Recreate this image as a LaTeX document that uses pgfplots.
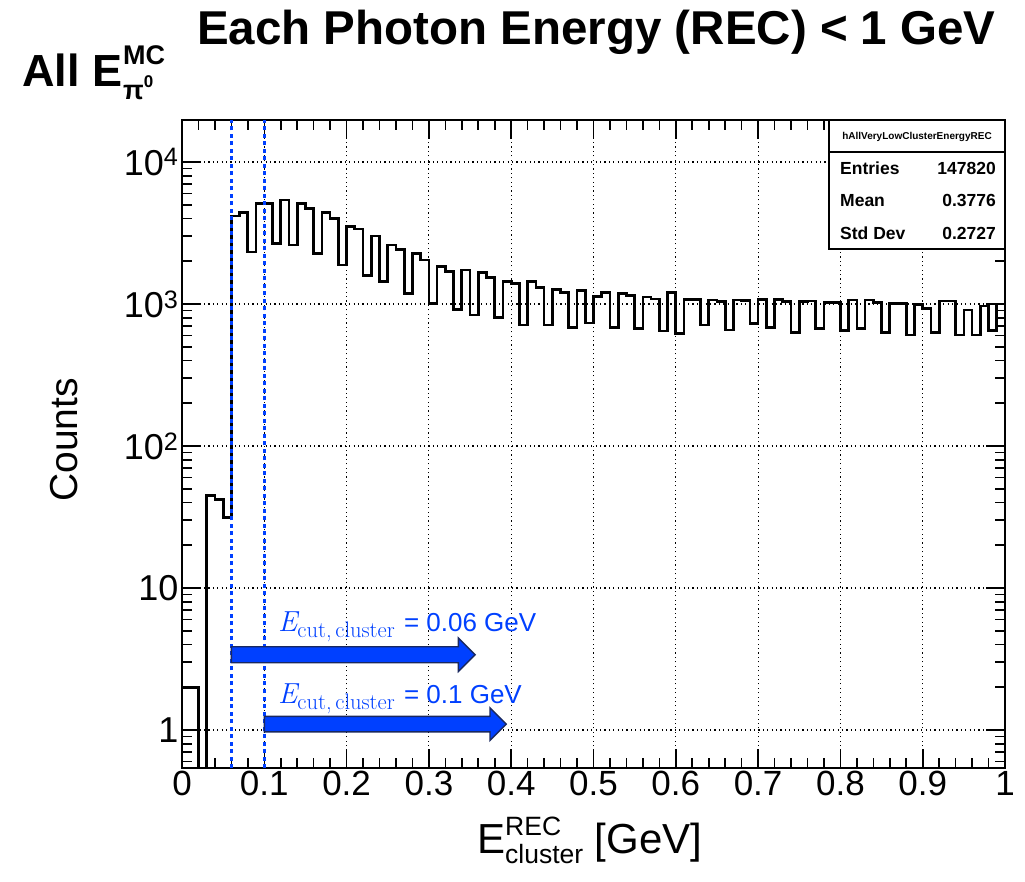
\documentclass[border=0pt]{standalone}
\usepackage{graphicx}
\usepackage{fontspec}
\setmainfont{Liberation Sans}
\newfontfamily\lmr{Latin Modern Roman}
\usepackage{pgfplots}
\pgfplotsset{compat=1.18}
\definecolor{myblue}{RGB}{0,64,255}
\definecolor{navy}{RGB}{25,40,95}
\begin{document}
\begin{tikzpicture}
\path[use as bounding box] (0,0) rectangle (1025pt,881pt);
\begin{axis}[
  at={(182pt,113pt)}, anchor=south west,
  scale only axis, width=823pt, height=648pt,
  xmin=0, xmax=1, ymode=log, ymin=0.54, ymax=19770,
  xtick={0,0.1,0.2,0.3,0.4,0.5,0.6,0.7,0.8,0.9,1},
  xticklabels={0,0.1,0.2,0.3,0.4,0.5,0.6,0.7,0.8,0.9,1},
  minor x tick num=4,
  ytick={1,10,100,1000,10000},
  yticklabels={1,10,10\textsuperscript{2},10\textsuperscript{3},10\textsuperscript{4}},
  minor ytick={0.6,0.7,0.8,0.9,2,3,4,5,6,7,8,9,20,30,40,50,60,70,80,90,200,300,400,500,600,700,800,900,2000,3000,4000,5000,6000,7000,8000,9000},
  tick align=inside, tick pos=both,
  major tick length=19pt, minor tick length=10pt,
  every tick/.style={black, line width=1.6pt},
  axis line style={line width=1.8pt},
  grid=major,
  major grid style={black, line width=1.1pt, dash pattern=on 1.1pt off 3.3pt},
  xticklabel style={font=\fontsize{35}{35}\selectfont},
  yticklabel style={font=\fontsize{36}{36}\selectfont},
]
\addplot[const plot, line width=2.7pt, black, line join=miter] coordinates {
(0.00,2) (0.01,2) (0.02,0.001) (0.03,45) (0.04,42) (0.05,31.5)
(0.06,4170) (0.07,4425) (0.08,2323) (0.09,5120) (0.10,5120) (0.11,2660)
(0.12,5400) (0.13,2600) (0.14,5120) (0.15,4720) (0.16,2275) (0.17,4400)
(0.18,4010) (0.19,1883) (0.20,3505) (0.21,3375) (0.22,1582) (0.23,3015)
(0.24,1435) (0.25,2600) (0.26,2427) (0.27,1189) (0.28,2275) (0.29,2042)
(0.30,1012) (0.31,1832) (0.32,1690) (0.33,918) (0.34,1735) (0.35,837)
(0.36,1672) (0.37,1542) (0.38,806) (0.39,1435) (0.40,1400) (0.41,711)
(0.42,1435) (0.43,1303) (0.44,711) (0.45,1268) (0.46,1205) (0.47,685)
(0.48,1240) (0.49,735) (0.50,1130) (0.51,1208) (0.52,685) (0.53,1189)
(0.54,1150) (0.55,670) (0.56,1120) (0.57,1084) (0.58,645) (0.59,1205)
(0.60,622) (0.61,1080) (0.62,1080) (0.63,711) (0.64,1067) (0.65,1040)
(0.66,655) (0.67,1067) (0.68,1060) (0.69,730) (0.70,1075) (0.71,681)
(0.72,1075) (0.73,1038) (0.74,628) (0.75,1038) (0.76,1050) (0.77,674)
(0.78,1020) (0.79,1020) (0.80,649) (0.81,1067) (0.82,674) (0.83,1067)
(0.84,1020) (0.85,628) (0.86,1012) (0.87,1012) (0.88,605) (0.89,990)
(0.90,933) (0.91,628) (0.92,1050) (0.93,1050) (0.94,605) (0.95,907)
(0.96,605) (0.97,968) (0.98,650) (0.99,1000) (1.00,1000)
};
\draw[myblue, line width=3pt, dash pattern=on 4pt off 3.5pt] (axis cs:0.06,0.54) -- (axis cs:0.06,19770);
\draw[myblue, line width=3pt, dash pattern=on 4pt off 3.5pt] (axis cs:0.1,0.54) -- (axis cs:0.1,19770);
\filldraw[fill=myblue, draw=navy, line width=1.4pt, line join=miter]
  (axis cs:0.06,3.39) ++(0pt,8pt) -- ++(227pt,0pt) -- ++(0pt,8.7pt) -- ++(16.7pt,-16.7pt)
  -- ++(-16.7pt,-16.7pt) -- ++(0pt,8.7pt) -- ++(-227pt,0pt) -- cycle;
\filldraw[fill=myblue, draw=navy, line width=1.4pt, line join=miter]
  (axis cs:0.1,1.10) ++(0pt,7.8pt) -- ++(225.7pt,0pt) -- ++(0pt,8.4pt) -- ++(16.2pt,-16.2pt)
  -- ++(-16.2pt,-16.2pt) -- ++(0pt,8.4pt) -- ++(-225.7pt,0pt) -- cycle;
\end{axis}
% arrow labels
\node[anchor=base west, inner sep=0, text=myblue] at (278pt,249pt)
  {\fontsize{26}{26}\selectfont{\lmr\fontsize{29}{29}\selectfont\itshape E}\raisebox{-6pt}{\lmr\fontsize{22.5}{22.5}\selectfont cut,\,cluster}\hspace{2pt} = 0.06 GeV};
\node[anchor=base west, inner sep=0, text=myblue] at (278pt,177pt)
  {\fontsize{26}{26}\selectfont{\lmr\fontsize{29}{29}\selectfont\itshape E}\raisebox{-6pt}{\lmr\fontsize{22.5}{22.5}\selectfont cut,\,cluster}\hspace{2pt} = 0.1 GeV};
% stats box
\draw[fill=white, line width=1.6pt] (829pt,632pt) rectangle (1005pt,761pt);
\draw[line width=1.6pt] (829pt,729pt) -- (1005pt,729pt);
\node[anchor=base, inner sep=0] at (917pt,741pt) {\fontsize{10}{10}\selectfont\bfseries hAllVeryLowClusterEnergyREC};
\node[anchor=base west, inner sep=0] at (840pt,706pt) {\fontsize{17.5}{17.5}\selectfont\bfseries Entries};
\node[anchor=base east, inner sep=0] at (996pt,706pt) {\fontsize{17.5}{17.5}\selectfont\bfseries 147820};
\node[anchor=base west, inner sep=0] at (840pt,674pt) {\fontsize{17.5}{17.5}\selectfont\bfseries Mean};
\node[anchor=base east, inner sep=0] at (996pt,674pt) {\fontsize{17.5}{17.5}\selectfont\bfseries 0.3776};
\node[anchor=base west, inner sep=0] at (840pt,641pt) {\fontsize{17.5}{17.5}\selectfont\bfseries Std Dev};
\node[anchor=base east, inner sep=0] at (996pt,641pt) {\fontsize{17.5}{17.5}\selectfont\bfseries 0.2727};
% axis labels
\node[rotate=90, anchor=base, inner sep=0] at (77pt,441pt) {\fontsize{39}{39}\selectfont Counts};
\node[anchor=base west, inner sep=0] at (477pt,28pt)
  {\fontsize{42}{42}\selectfont E\rlap{\raisebox{18pt}{\fontsize{26.5}{26.5}\selectfont REC}}\raisebox{-10pt}{\fontsize{26.5}{26.5}\selectfont cluster} [GeV]};
% titles
\node[anchor=base west, inner sep=0] at (197pt,836pt) {\fontsize{47.5}{50}\selectfont\bfseries Each Photon Energy (REC) < 1 GeV};
\node[anchor=base west, inner sep=0] at (22pt,794pt)
  {\fontsize{45}{45}\selectfont\bfseries All E\hspace{1pt}\rlap{\raisebox{22pt}{\fontsize{27}{27}\selectfont\bfseries MC}}\raisebox{-13pt}{\fontsize{27}{27}\selectfont\bfseries π\raisebox{12pt}{\fontsize{17}{17}\selectfont 0}}};
\end{tikzpicture}
\end{document}
